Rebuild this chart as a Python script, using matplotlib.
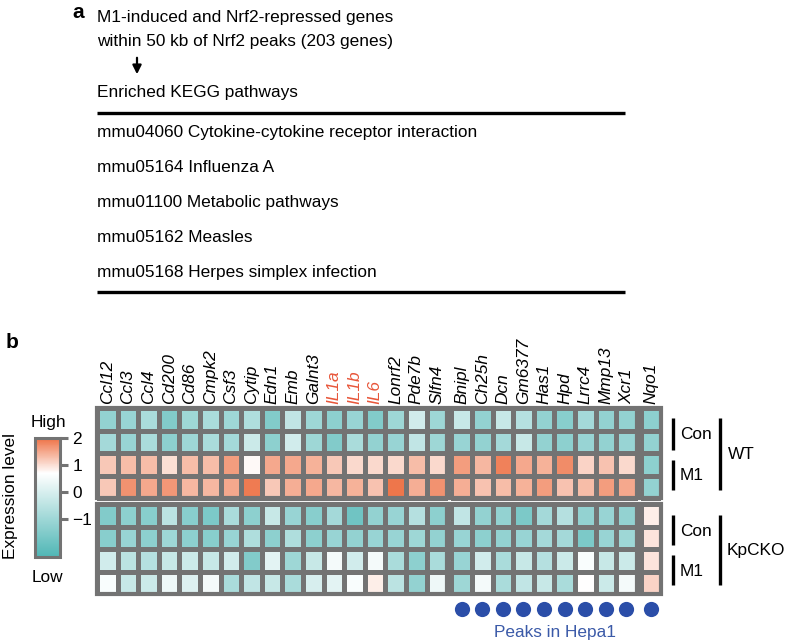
import numpy as np
import matplotlib
matplotlib.use("Agg")
import matplotlib.pyplot as plt
from matplotlib.colors import LinearSegmentedColormap, Normalize
from matplotlib.cm import ScalarMappable
from matplotlib.patches import Rectangle

plt.rcParams['font.family'] = ['Liberation Sans', 'DejaVu Sans']

# panel a text
header_lines = ["M1-induced and Nrf2-repressed genes", "within 50 kb of Nrf2 peaks (203 genes)"]
table_title = "Enriched KEGG pathways"
pathways = ["mmu04060 Cytokine-cytokine receptor interaction",
            "mmu05164 Influenza A",
            "mmu01100 Metabolic pathways",
            "mmu05162 Measles",
            "mmu05168 Herpes simplex infection"]

# panel b genes (three column groups)
genes_1 = ["Ccl12", "Ccl3", "Ccl4", "Cd200", "Cd86", "Cmpk2", "Csf3", "Cytip", "Edn1",
           "Emb", "Galnt3", "IL1a", "IL1b", "IL6", "Lonrf2", "Pde7b", "Slfn4"]
genes_2 = ["Bnipl", "Ch25h", "Dcn", "Gm6377", "Has1", "Hpd", "Lrrc4", "Mmp13", "Xcr1"]
genes_3 = ["Nqo1"]
red_genes = ["IL1a", "IL1b", "IL6"]
peaks_in_hepa1 = [0] * 17 + [1] * 9 + [1]

# expression z-scores, one list per sample (genes_1 + genes_2 + genes_3)
wt_con_1 = [-1.2, -1.1, -0.8, -1.5, -1.0, -0.8, -1.0, -0.7, -1.5, -0.4, -1.0, -1.3, -1.1, -1.5, -1.0, -0.1, -1.0,
            -0.3, -1.2, -0.3, -0.6, -1.2, -1.4, -0.9, -1.2, -1.2, -1.3]
wt_con_2 = [-0.9, -1.1, -0.8, -1.3, -1.0, -0.8, -0.9, -0.2, -1.3, -0.1, -1.0, -1.5, -0.8, -1.2, -1.1, -0.4, -1.0,
            -1.1, -1.2, -0.9, -0.3, -1.2, -1.3, -1.1, -1.2, -1.1, -1.2]
wt_m1_1 = [1.2, 1.3, 1.3, 1.0, 1.3, 1.3, 1.6, 0.75, 1.5, 1.5, 1.4, 1.2, 1.05, 1.05, 1.05, 1.3, 1.05,
           1.6, 1.35, 1.85, 1.5, 1.4, 1.75, 1.1, 1.25, 1.05, -1.3]
wt_m1_2 = [1.2, 1.7, 1.5, 1.65, 1.35, 1.35, 1.5, 1.9, 1.2, 1.45, 1.5, 1.35, 1.4, 1.25, 1.95, 1.45, 1.7,
           1.45, 1.25, 1.3, 1.4, 1.6, 1.25, 1.3, 1.6, 1.5, -1.2]
ko_con_1 = [-1.5, -1.3, -1.4, -0.5, -1.4, -1.6, -0.8, -1.3, -0.3, -1.1, -1.4, -0.9, -1.8, -1.2, -1.1, -0.6, -1.3,
            -0.4, -1.2, -1.2, -1.6, -0.9, -0.6, -1.2, -1.1, -1.2, 0.85]
ko_con_2 = [-1.4, -1.1, -1.3, -1.0, -1.3, -1.4, -1.1, -0.7, -1.3, -0.7, -1.3, -1.1, -1.2, -1.1, -1.1, -1.0, -1.2,
            -1.1, -1.3, -1.2, -1.1, -0.9, -0.9, -1.6, -1.1, -1.0, 0.95]
ko_m1_1 = [-0.1, -0.5, -0.6, -0.3, -0.2, -0.3, -0.1, -1.5, 0.2, -1.0, -0.3, 0.5, -0.1, 0.5, -0.8, -1.3, -0.8,
           -1.1, -0.1, -0.8, -0.3, -0.6, -0.2, 0.6, -0.3, -0.2, 0.95]
ko_m1_2 = [0.6, -0.3, -0.2, 0.4, 0.1, 0.5, -0.8, -0.4, -0.3, -0.8, 0.0, 0.2, 0.6, 0.85, -0.5, -1.2, 0.4,
           -1.0, 0.5, -0.8, -0.4, -0.3, -0.8, 0.7, -0.2, 0.5, 1.1]

cb_ticks = [2, 1, 0, -1]

W, H = 788, 644
fig = plt.figure(figsize=(W / 100, H / 100), dpi=100)


def px_axes(x0, y0, w, h):
    return fig.add_axes([x0 / W, 1 - (y0 + h) / H, w / W, h / H])


# overlay in pixel coordinates for labels and lines
ax0 = px_axes(0, 0, W, H)
ax0.set_xlim(0, W)
ax0.set_ylim(H, 0)
ax0.axis("off")

fs = 12.4
ax0.text(78, 12, "a", fontsize=15, fontweight="bold", ha="center", va="center")
ax0.text(97, 22, header_lines[0], fontsize=fs, va="baseline")
ax0.text(97, 46, header_lines[1], fontsize=fs, va="baseline")
ax0.annotate("", xy=(137, 77), xytext=(137, 55),
             arrowprops=dict(arrowstyle="-|>", lw=1.6, color="black", mutation_scale=13))
ax0.text(97, 97, table_title, fontsize=fs, va="baseline")
ax0.plot([97, 625], [113, 113], color="black", lw=2.4, solid_capstyle="butt")
for i, p in enumerate(pathways):
    ax0.text(97, 137 + 35 * i, p, fontsize=fs, va="baseline")
ax0.plot([97, 625], [292, 292], color="black", lw=2.4, solid_capstyle="butt")

ax0.text(12, 342, "b", fontsize=15, fontweight="bold", ha="center", va="center")

# right-hand brackets
br = dict(color="black", lw=2.4, solid_capstyle="butt")
for (y1, y2, lab, yt) in [(418, 450, "Con", 434), (460, 490, "M1", 475),
                          (515, 545, "Con", 531), (555, 585, "M1", 571)]:
    ax0.plot([673, 673], [y1, y2], **br)
    ax0.text(680, yt, lab, fontsize=fs, va="center")
ax0.plot([720, 720], [418, 490], **br)
ax0.text(728, 454, "WT", fontsize=fs, va="center")
ax0.plot([720, 720], [515, 585], **br)
ax0.text(727, 550, "KpCKO", fontsize=fs, va="center")

ax0.text(555, 632, "Peaks in Hepa1", fontsize=fs, ha="center", va="center", color="#3b5aa8")

# heatmap
teal, orange = "#4fb6b5", "#ee7246"
vmin, vmax, vwhite = -2.4, 2.0, 0.7
cmap = LinearSegmentedColormap.from_list(
    "expr", [(0, teal), ((vwhite - vmin) / (vmax - vmin), "white"), (1, orange)])
norm = Normalize(vmin=vmin, vmax=vmax)

data = np.array([wt_con_1, wt_con_2, wt_m1_1, wt_m1_2, ko_con_1, ko_con_2, ko_m1_1, ko_m1_2])
groups = [genes_1, genes_2, genes_3]
gx = [0, 17.2, 26.4]
gy = [0, 4.25]
cw, ch = 20.6, 22.6
ax = px_axes(97, 408, 27.4 * cw, 8.25 * ch)
ax.set_xlim(0, 27.4)
ax.set_ylim(8.25, 0)
grid = "#737373"
centers, labels = [], []
c0 = 0
for g, xo in zip(groups, gx):
    n = len(g)
    for b, yo in enumerate(gy):
        X = xo + np.arange(n + 1)
        Y = yo + np.arange(5)
        ax.pcolormesh(X, Y, data[4 * b:4 * b + 4, c0:c0 + n], cmap=cmap, norm=norm,
                      edgecolors=grid, linewidth=2.2)
        ax.add_patch(Rectangle((xo, yo), n, 4, fill=False, ec=grid, lw=3.0, clip_on=False))
    centers += list(xo + np.arange(n) + 0.5)
    labels += g
    c0 += n

ax.xaxis.tick_top()
ax.set_xticks(centers)
ax.set_xticklabels(labels, rotation=90, fontsize=fs, fontstyle="italic")
for t in ax.get_xticklabels():
    if t.get_text() in red_genes:
        t.set_color("#e8563a")
ax.tick_params(axis="x", length=0, pad=3)
ax.set_yticks([])
for s in ax.spines.values():
    s.set_visible(False)

# peak dots below the heatmap
pk = [c for c, f in zip(centers, peaks_in_hepa1) if f]
ax.scatter(pk, [8.88] * len(pk), s=120, color="#2b4ea8", clip_on=False, linewidths=0)

# colour bar
cax = px_axes(35, 438, 25, 119)
cb = fig.colorbar(ScalarMappable(norm=norm, cmap=cmap), cax=cax, ticks=cb_ticks)
cb.outline.set_edgecolor(grid)
cb.outline.set_linewidth(2.2)
cax.tick_params(color=grid, width=2.2, length=6, labelsize=fs, pad=3)
ax0.text(48, 422, "High", fontsize=fs, ha="center", va="center")
ax0.text(47, 577, "Low", fontsize=fs, ha="center", va="center")
ax0.text(11, 496, "Expression level", fontsize=fs, rotation=90, ha="center", va="center")

fig.savefig("out.png", dpi=100)
